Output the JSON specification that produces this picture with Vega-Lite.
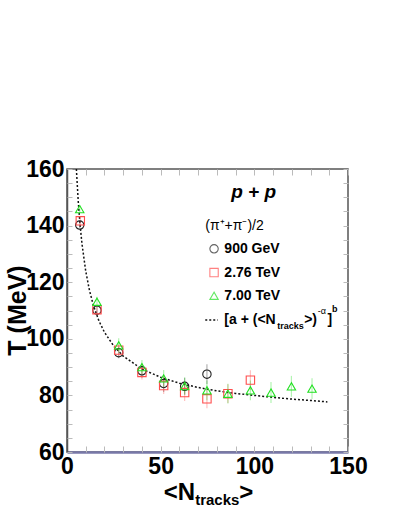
{
  "$schema": "https://vega.github.io/schema/vega-lite/v6.json",
  "width": 281,
  "height": 283,
  "autosize": {"type": "none"},
  "padding": {"left": 67, "top": 169, "right": 51, "bottom": 64},
  "background": "white",
  "config": {
    "view": {"stroke": "#555555", "strokeWidth": 1.5},
    "font": "Liberation Sans"
  },
  "datasets": {
    "pts": [
      {"s": "900 GeV", "n": 6.8, "T": 140.2, "e": 1.3},
      {"s": "900 GeV", "n": 16.0, "T": 110.1, "e": 1.5},
      {"s": "900 GeV", "n": 27.6, "T": 95.1, "e": 2.0},
      {"s": "900 GeV", "n": 40.0, "T": 88.7, "e": 2.5},
      {"s": "900 GeV", "n": 51.6, "T": 84.2, "e": 3.0},
      {"s": "900 GeV", "n": 62.8, "T": 83.2, "e": 3.0},
      {"s": "900 GeV", "n": 74.7, "T": 87.5, "e": 3.5},
      {"s": "2.76 TeV", "n": 7.1, "T": 141.7, "e": 1.3},
      {"s": "2.76 TeV", "n": 16.0, "T": 110.3, "e": 1.5},
      {"s": "2.76 TeV", "n": 27.6, "T": 96.0, "e": 2.0},
      {"s": "2.76 TeV", "n": 40.0, "T": 88.1, "e": 2.5},
      {"s": "2.76 TeV", "n": 51.6, "T": 83.5, "e": 3.0},
      {"s": "2.76 TeV", "n": 62.8, "T": 81.0, "e": 3.0},
      {"s": "2.76 TeV", "n": 74.7, "T": 78.8, "e": 3.3},
      {"s": "2.76 TeV", "n": 85.9, "T": 80.6, "e": 3.3},
      {"s": "2.76 TeV", "n": 97.9, "T": 85.4, "e": 3.5},
      {"s": "7.00 TeV", "n": 6.8, "T": 145.8, "e": 1.3},
      {"s": "7.00 TeV", "n": 16.0, "T": 113.1, "e": 1.8},
      {"s": "7.00 TeV", "n": 27.6, "T": 97.7, "e": 2.5},
      {"s": "7.00 TeV", "n": 40.0, "T": 90.0, "e": 2.5},
      {"s": "7.00 TeV", "n": 51.6, "T": 86.0, "e": 3.0},
      {"s": "7.00 TeV", "n": 62.8, "T": 83.3, "e": 3.0},
      {"s": "7.00 TeV", "n": 74.7, "T": 81.8, "e": 3.5},
      {"s": "7.00 TeV", "n": 85.9, "T": 80.6, "e": 3.5},
      {"s": "7.00 TeV", "n": 97.9, "T": 81.8, "e": 3.5},
      {"s": "7.00 TeV", "n": 108.9, "T": 81.0, "e": 3.7},
      {"s": "7.00 TeV", "n": 119.8, "T": 83.2, "e": 3.7},
      {"s": "7.00 TeV", "n": 130.8, "T": 82.4, "e": 3.7}
    ],
    "fit": [
      {"n": 5, "T": 160.0}, {"n": 6, "T": 148.6}, {"n": 7, "T": 140.2},
      {"n": 8, "T": 133.5}, {"n": 10, "T": 123.9}, {"n": 12, "T": 117.1},
      {"n": 14, "T": 112.0}, {"n": 17, "T": 106.4}, {"n": 20, "T": 102.3},
      {"n": 25, "T": 97.4}, {"n": 30, "T": 93.9}, {"n": 40, "T": 89.3},
      {"n": 50, "T": 86.4}, {"n": 60, "T": 84.3}, {"n": 70, "T": 82.8},
      {"n": 80, "T": 81.6}, {"n": 90, "T": 80.7}, {"n": 100, "T": 80.0},
      {"n": 110, "T": 79.3}, {"n": 120, "T": 78.7}, {"n": 130, "T": 78.2},
      {"n": 139, "T": 77.7}
    ],
    "leg": [
      {"s": "900 GeV", "T": 131.8},
      {"s": "2.76 TeV", "T": 123.4},
      {"s": "7.00 TeV", "T": 115.2}
    ]
  },
  "resolve": {"axis": {"x": "independent", "y": "independent"}},
  "layer": [
    {
      "data": {"name": "fit"},
      "mark": {"type": "line", "color": "#111111", "strokeWidth": 1.5, "strokeDash": [2, 2], "clip": true},
      "encoding": {
        "x": {"field": "n", "type": "quantitative", "scale": {"domain": [0, 150], "nice": false},
          "axis": {"orient": "bottom", "values": [0, 50, 100, 150], "ticks": false, "grid": false,
            "domainColor": "#7878a8", "domainWidth": 2.5,
            "labelFont": "Liberation Sans", "labelFontWeight": "bold", "labelFontSize": 23, "labelColor": "#000000",
            "labelPadding": 3, "labelFlush": false, "labelOverlap": false, "title": null}},
        "y": {"field": "T", "type": "quantitative", "scale": {"domain": [60, 160], "nice": false, "zero": false},
          "axis": {"orient": "left", "values": [60, 80, 100, 120, 140, 160], "ticks": false, "grid": false,
            "domainColor": "#555555", "domainWidth": 1.5,
            "labelFont": "Liberation Sans", "labelFontWeight": "bold", "labelFontSize": 23, "labelColor": "#000000",
            "labelPadding": 3, "labelFlush": false, "labelOverlap": false,
            "title": "T (MeV)", "titleFont": "Liberation Sans", "titleFontWeight": "bold", "titleFontSize": 25,
            "titleColor": "#000000", "titleX": -50, "titleY": 141, "titleAngle": 270,
            "titleAlign": "center", "titleBaseline": "middle"}}
      }
    },
    {
      "data": {"name": "pts"},
      "mark": {"type": "errorbar", "ticks": false, "opacity": 0.35, "thickness": 1.2},
      "encoding": {
        "x": {"field": "n", "type": "quantitative",
          "axis": {"orient": "bottom", "values": [0,10,20,30,40,50,60,70,80,90,100,110,120,130,140,150],
            "labels": false, "domain": false, "grid": false, "tickSize": -6, "tickColor": "#bbbbbb", "title": null}},
        "y": {"field": "T", "type": "quantitative",
          "axis": {"orient": "left", "values": [60,65,70,75,80,85,90,95,100,105,110,115,120,125,130,135,140,145,150,155,160],
            "labels": false, "domain": false, "grid": false, "tickSize": -5, "tickColor": "#bbbbbb", "title": null}},
        "yError": {"field": "e"},
        "color": {"field": "s", "type": "nominal",
          "scale": {"domain": ["900 GeV", "2.76 TeV", "7.00 TeV"], "range": ["#222222", "#ff4d4d", "#22e022"]},
          "legend": null}
      }
    },
    {
      "data": {"name": "pts"},
      "mark": {"type": "point", "filled": false, "strokeWidth": 1.1, "opacity": 1},
      "encoding": {
        "x": {"field": "n", "type": "quantitative",
          "axis": {"orient": "top", "values": [0,10,20,30,40,50,60,70,80,90,100,110,120,130,140,150],
            "labels": false, "domain": false, "grid": false, "tickSize": -6, "tickColor": "#bbbbbb", "title": null}},
        "y": {"field": "T", "type": "quantitative",
          "axis": {"orient": "right", "values": [60,65,70,75,80,85,90,95,100,105,110,115,120,125,130,135,140,145,150,155,160],
            "labels": false, "domain": false, "grid": false, "tickSize": -5, "tickColor": "#bbbbbb", "title": null}},
        "color": {"field": "s", "type": "nominal", "legend": null},
        "shape": {"field": "s", "type": "nominal",
          "scale": {"domain": ["900 GeV", "2.76 TeV", "7.00 TeV"], "range": ["circle", "square", "triangle-up"]},
          "legend": null},
        "size": {"value": 70}
      }
    },
    {
      "data": {"name": "leg"},
      "mark": {"type": "point", "filled": false, "strokeWidth": 1.1},
      "encoding": {
        "x": {"datum": 78.5, "type": "quantitative", "axis": null},
        "y": {"field": "T", "type": "quantitative", "axis": null},
        "color": {"field": "s", "type": "nominal", "legend": null},
        "shape": {"field": "s", "type": "nominal", "legend": null},
        "size": {"value": 70}
      }
    },
    {
      "data": {"name": "leg"},
      "mark": {"type": "text", "align": "left", "baseline": "middle", "font": "Liberation Sans", "fontWeight": "bold", "fontSize": 14, "color": "#000000"},
      "encoding": {
        "x": {"datum": 84, "type": "quantitative", "axis": null},
        "y": {"field": "T", "type": "quantitative", "axis": null},
        "text": {"field": "s"}
      }
    },
    {
      "data": {"values": [{"n": 73.8}, {"n": 80.5}]},
      "mark": {"type": "line", "color": "#111111", "strokeWidth": 1.5, "strokeDash": [2, 2]},
      "encoding": {
        "x": {"field": "n", "type": "quantitative", "axis": null},
        "y": {"datum": 106.6, "type": "quantitative", "axis": null}
      }
    },
    {
      "data": {"values": [{}]},
      "layer": [
        {"mark": {"type": "text", "text": "p + p", "align": "center", "baseline": "middle", "font": "Liberation Sans", "fontWeight": "bold", "fontStyle": "italic", "fontSize": 19, "color": "#000000"},
          "encoding": {"x": {"datum": 99.6, "type": "quantitative", "axis": null}, "y": {"datum": 152, "type": "quantitative", "axis": null}}},
        {"mark": {"type": "text", "text": "(π⁺+π⁻)/2", "align": "left", "baseline": "middle", "font": "Liberation Sans", "fontSize": 14, "color": "#000000"},
          "encoding": {"x": {"datum": 73.8, "type": "quantitative", "axis": null}, "y": {"datum": 139.8, "type": "quantitative", "axis": null}}},
        {"mark": {"type": "text", "text": "[a + (<N", "align": "left", "baseline": "middle", "font": "Liberation Sans", "fontWeight": "bold", "fontSize": 14, "color": "#000000"},
          "encoding": {"x": {"datum": 84, "type": "quantitative", "axis": null}, "y": {"datum": 106.6, "type": "quantitative", "axis": null}}},
        {"mark": {"type": "text", "text": "tracks", "align": "left", "baseline": "middle", "font": "Liberation Sans", "fontWeight": "bold", "fontSize": 9, "color": "#000000"},
          "encoding": {"x": {"datum": 112.2, "type": "quantitative", "axis": null}, "y": {"datum": 104.4, "type": "quantitative", "axis": null}}},
        {"mark": {"type": "text", "text": ">)", "align": "left", "baseline": "middle", "font": "Liberation Sans", "fontWeight": "bold", "fontSize": 14, "color": "#000000"},
          "encoding": {"x": {"datum": 126.6, "type": "quantitative", "axis": null}, "y": {"datum": 106.6, "type": "quantitative", "axis": null}}},
        {"mark": {"type": "text", "text": "-α", "align": "left", "baseline": "middle", "font": "Liberation Sans", "fontSize": 9, "color": "#000000"},
          "encoding": {"x": {"datum": 133.8, "type": "quantitative", "axis": null}, "y": {"datum": 109.8, "type": "quantitative", "axis": null}}},
        {"mark": {"type": "text", "text": "]", "align": "left", "baseline": "middle", "font": "Liberation Sans", "fontWeight": "bold", "fontSize": 14, "color": "#000000"},
          "encoding": {"x": {"datum": 139.0, "type": "quantitative", "axis": null}, "y": {"datum": 106.6, "type": "quantitative", "axis": null}}},
        {"mark": {"type": "text", "text": "b", "align": "left", "baseline": "middle", "font": "Liberation Sans", "fontWeight": "bold", "fontSize": 9, "color": "#000000"},
          "encoding": {"x": {"datum": 141.4, "type": "quantitative", "axis": null}, "y": {"datum": 110.4, "type": "quantitative", "axis": null}}},
        {"mark": {"type": "text", "text": "<N", "align": "right", "baseline": "middle", "font": "Liberation Sans", "fontWeight": "bold", "fontSize": 24, "color": "#000000", "dy": 41},
          "encoding": {"x": {"datum": 68.4, "type": "quantitative", "axis": null}, "y": {"datum": 60, "type": "quantitative", "axis": null}}},
        {"mark": {"type": "text", "text": "tracks", "align": "left", "baseline": "middle", "font": "Liberation Sans", "fontWeight": "bold", "fontSize": 15, "color": "#000000", "dy": 48},
          "encoding": {"x": {"datum": 68.4, "type": "quantitative", "axis": null}, "y": {"datum": 60, "type": "quantitative", "axis": null}}},
        {"mark": {"type": "text", "text": ">", "align": "left", "baseline": "middle", "font": "Liberation Sans", "fontWeight": "bold", "fontSize": 24, "color": "#000000", "dy": 41},
          "encoding": {"x": {"datum": 91.9, "type": "quantitative", "axis": null}, "y": {"datum": 60, "type": "quantitative", "axis": null}}}
      ]
    }
  ]
}
